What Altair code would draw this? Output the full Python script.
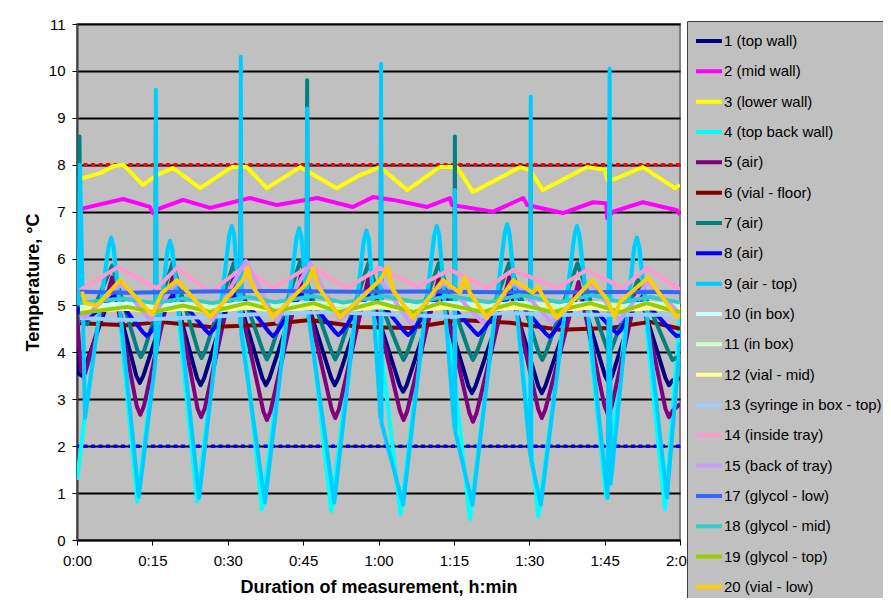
import altair as alt
import pandas as pd

LABELS = ["1 (top wall)", "2 (mid wall)", "3 (lower wall)", "4 (top back wall)", "5 (air)",
          "6 (vial - floor)", "7 (air)", "8 (air)", "9 (air  - top)", "10 (in box)",
          "11 (in box)", "12 (vial - mid)", "13 (syringe in box - top)", "14 (inside tray)",
          "15 (back of tray)", "17 (glycol - low)", "18 (glycol - mid)", "19 (glycol - top)",
          "20 (vial - low)"]
COLORS = ["#000080", "#FF00FF", "#FFFF00", "#00FFFF", "#800080", "#800000", "#008080",
          "#0000FF", "#00CCFF", "#CCFFFF", "#CCFFCC", "#FFFF99", "#99CCFF", "#FF99CC",
          "#CC99FF", "#3366FF", "#33CCCC", "#99CC00", "#FFCC00"]

X_TICKS = [0, 15, 30, 45, 60, 75, 90, 105, 120]
Y_TICKS = [0, 1, 2, 3, 4, 5, 6, 7, 8, 9, 10, 11]
LIMIT_HIGH = [8]
LIMIT_LOW = [2]

# time in minutes, temperature in degC
T1 = [0, 0.3, 1.0, 7.2, 11.8, 12.5, 13.2, 19.0, 23.9, 24.6, 25.3, 31.2, 36.9, 37.6, 38.3, 44.6, 50.6, 51.3, 52.0, 58.0, 64.2, 64.9, 65.6, 72.0, 77.9, 78.6, 79.3, 86.0, 91.8, 92.5, 93.2, 99.8, 105.1, 105.8, 106.5, 111.8, 117.1, 117.8, 118.5, 120]
V1 = [4.9, 3.55, 3.5, 5.4, 3.5, 3.35, 3.5, 5.4, 3.45, 3.3, 3.45, 5.5, 3.45, 3.3, 3.45, 5.5, 3.45, 3.3, 3.45, 5.4, 3.3, 3.16, 3.3, 5.4, 3.28, 3.13, 3.28, 5.4, 3.28, 3.13, 3.28, 5.4, 3.5, 3.35, 3.5, 5.3, 3.45, 3.3, 3.4, 3.45]

T2 = [0, 1.2, 9.2, 14.5, 15.1, 16.5, 21.1, 26.5, 34.4, 39.8, 47.8, 54.9, 58.9, 62.9, 69.7, 74.2, 74.6, 82.8, 88.8, 89.6, 96.7, 102.7, 105.3, 105.5, 106.7, 112.6, 119.4, 120]
V2 = [6.97, 7.07, 7.27, 7.1, 6.97, 7.07, 7.25, 7.08, 7.29, 7.14, 7.29, 7.1, 7.31, 7.25, 7.1, 7.29, 7.14, 7.0, 7.29, 7.14, 6.97, 7.2, 7.18, 6.86, 7.0, 7.2, 7.03, 6.93]

T3 = [0, 4.6, 7.2, 9.2, 13.1, 15.9, 19.1, 24.5, 30.8, 33.8, 37.8, 44.4, 51.7, 56.3, 60.3, 65.7, 72.2, 75.6, 78.8, 88.2, 90.1, 92.7, 101.5, 105.1, 105.5, 106.7, 112.6, 119.0, 120]
V3 = [7.68, 7.82, 7.97, 8.0, 7.57, 7.78, 7.93, 7.5, 7.95, 7.95, 7.5, 7.95, 7.5, 7.78, 7.95, 7.46, 7.95, 7.95, 7.42, 7.95, 7.89, 7.46, 7.95, 7.89, 7.68, 7.68, 7.95, 7.5, 7.57]

T4 = [0, 1.5, 6.2, 6.7, 7.2, 12.0, 17.9, 18.4, 18.9, 23.9, 30.2, 30.7, 31.2, 36.8, 43.6, 44.1, 44.6, 50.6, 57.0, 57.5, 58.0, 64.4, 71.0, 71.5, 72.0, 78.2, 85.0, 85.5, 86.0, 91.8, 98.9, 99.4, 99.9, 105.3, 110.8, 111.3, 111.8, 117.0, 120]
V4 = [1.28, 2.6, 6.2, 6.4, 6.2, 0.82, 6.1, 6.3, 6.1, 0.82, 6.45, 6.65, 6.45, 0.65, 6.4, 6.6, 6.4, 0.62, 6.35, 6.55, 6.35, 0.55, 6.45, 6.65, 6.45, 0.45, 6.5, 6.7, 6.5, 0.5, 6.45, 6.65, 6.45, 0.9, 6.2, 6.4, 6.2, 0.65, 4.8]

T5 = [0, 0.8, 1.6, 7.0, 11.9, 12.6, 13.3, 19.0, 24.0, 24.7, 25.4, 31.2, 37.1, 37.8, 38.5, 44.6, 50.7, 51.4, 52.1, 58.0, 64.3, 65.0, 65.7, 72.0, 78.1, 78.8, 79.5, 86.0, 91.8, 92.5, 93.2, 99.8, 105.0, 105.7, 106.4, 111.8, 117.1, 117.8, 118.5, 120]
V5 = [4.8, 3.6, 3.55, 5.6, 2.85, 2.67, 2.85, 5.6, 2.8, 2.62, 2.8, 5.65, 2.74, 2.56, 2.74, 5.65, 2.78, 2.6, 2.78, 5.6, 2.74, 2.56, 2.74, 5.6, 2.7, 2.52, 2.7, 5.6, 2.78, 2.6, 2.78, 5.5, 2.85, 2.67, 2.85, 5.5, 2.8, 2.62, 2.75, 2.9]

T6 = [0.6, 10.0, 16.5, 26.5, 36.4, 46.4, 56.3, 66.3, 76.2, 86.2, 96.1, 106.1, 114.0, 119.4, 120]
V6 = [4.62, 4.58, 4.65, 4.54, 4.58, 4.69, 4.54, 4.52, 4.69, 4.63, 4.48, 4.52, 4.65, 4.52, 4.5]

T7 = [0.3, 0.5, 0.7, 2.0, 7.0, 12.0, 12.7, 13.4, 15.6, 15.7, 15.8, 19.0, 24.1, 24.8, 25.5, 31.2, 32.5, 32.6, 32.7, 37.1, 37.8, 38.5, 44.5, 45.7, 45.8, 45.9, 50.7, 51.4, 52.1, 58.0, 60.4, 60.5, 60.6, 64.3, 65.0, 65.7, 72.0, 75.1, 75.2, 75.3, 78.1, 78.8, 79.5, 86.0, 90.2, 90.3, 90.4, 91.9, 92.6, 93.3, 99.6, 105.9, 106.0, 106.1, 111.6, 117.8, 118.5, 119.2, 120]
V7 = [6.6, 8.6, 4.7, 4.6, 5.85, 4.05, 3.9, 4.05, 4.8, 8.85, 4.85, 5.9, 4.03, 3.88, 4.03, 5.9, 5.4, 8.0, 5.35, 4.0, 3.85, 4.0, 5.97, 5.5, 9.8, 5.45, 4.0, 3.85, 4.0, 5.9, 5.1, 9.0, 5.0, 3.99, 3.84, 3.99, 5.9, 4.9, 8.6, 4.85, 3.99, 3.84, 3.99, 5.9, 4.6, 8.0, 4.5, 3.99, 3.84, 3.99, 5.9, 3.95, 8.0, 4.0, 5.55, 3.99, 3.84, 3.88, 3.9]

T8 = [0, 0.5, 2.0, 7.5, 13.2, 13.9, 14.6, 19.6, 25.6, 26.3, 27.0, 32.0, 38.3, 39.0, 39.7, 45.0, 51.3, 52.0, 52.7, 58.6, 65.2, 65.9, 66.6, 72.5, 79.1, 79.8, 80.5, 86.5, 93.3, 94.0, 94.7, 100.0, 106.8, 107.5, 108.2, 112.0, 118.6, 119.3, 120]
V8 = [4.95, 4.9, 4.7, 5.2, 4.42, 4.35, 4.42, 5.25, 4.47, 4.4, 4.47, 5.3, 4.42, 4.35, 4.42, 5.3, 4.44, 4.37, 4.44, 5.3, 4.44, 4.37, 4.44, 5.25, 4.44, 4.37, 4.44, 5.25, 4.4, 4.33, 4.4, 5.25, 4.47, 4.4, 4.47, 5.2, 4.42, 4.35, 4.36]

T9 = [0.3, 0.6, 1.6, 6.3, 6.8, 7.3, 12.3, 15.6, 15.7, 15.8, 18.0, 18.5, 19.0, 24.3, 30.3, 30.8, 31.3, 32.5, 32.6, 32.7, 37.4, 43.7, 44.2, 44.7, 45.7, 45.8, 45.9, 51.2, 57.1, 57.6, 58.1, 60.4, 60.5, 60.6, 64.9, 71.1, 71.6, 72.1, 75.1, 75.2, 75.3, 78.7, 85.1, 85.6, 86.1, 90.2, 90.3, 90.4, 92.3, 99.0, 99.5, 100.0, 105.6, 106.0, 106.2, 110.9, 111.4, 111.9, 117.4, 120]
V9 = [5.0, 8.0, 2.6, 6.25, 6.45, 6.25, 0.92, 3.8, 9.6, 4.0, 6.18, 6.38, 6.18, 0.9, 6.5, 6.7, 6.5, 4.6, 10.3, 4.4, 0.8, 6.45, 6.65, 6.45, 5.0, 9.2, 4.9, 0.8, 6.4, 6.6, 6.4, 2.6, 10.15, 2.5, 0.75, 6.5, 6.7, 6.5, 2.4, 7.46, 2.3, 0.75, 6.53, 6.73, 6.53, 1.8, 9.45, 1.7, 0.75, 6.5, 6.7, 6.5, 0.9, 10.05, 1.2, 6.25, 6.45, 6.25, 0.9, 4.2]

T10 = [0.6, 9, 15, 21, 27, 34, 39.5, 47, 53, 61, 67, 74, 81.5, 87.5, 95.5, 102.5, 108, 114, 120]
V10 = [4.98, 5.04, 4.99, 5.04, 4.99, 5.06, 5.0, 5.06, 5.0, 5.07, 5.0, 5.06, 5.0, 5.06, 5.0, 5.06, 5.0, 5.05, 5.0]

T11 = [0.6, 10, 21, 34, 47, 60, 73, 87, 101, 114, 120]
V11 = [4.93, 4.97, 4.96, 5.0, 5.0, 5.01, 4.99, 5.0, 4.99, 5.0, 4.97]

T12 = [0.6, 10, 15, 21, 27, 34, 40, 47, 53, 60, 67, 73, 81, 87, 95, 102, 108, 114, 120]
V12 = [4.88, 4.93, 4.88, 4.93, 4.88, 4.95, 4.89, 4.95, 4.89, 4.96, 4.9, 4.95, 4.9, 4.95, 4.9, 4.95, 4.9, 4.94, 4.9]

T13 = [0.6, 10, 25, 37, 50, 60, 75, 85, 96, 110, 120]
V13 = [4.73, 4.69, 4.75, 4.82, 4.86, 4.82, 4.76, 4.84, 4.8, 4.8, 4.8]

T14 = [0.6, 8.2, 14.5, 15.9, 19.9, 26.5, 33.2, 39.0, 46.4, 53.7, 60.3, 67.7, 74.2, 81.6, 86.8, 95.5, 101.5, 108.6, 113.4, 120]
V14 = [5.33, 5.82, 5.44, 5.37, 5.8, 5.29, 5.82, 5.37, 5.84, 5.37, 5.8, 5.4, 5.76, 5.37, 5.76, 5.37, 5.76, 5.37, 5.8, 5.33]

T15 = [0.6, 1.6, 8.6, 14.5, 19.9, 27.0, 33.6, 39.8, 46.4, 52.3, 60.3, 66.3, 73.0, 80.8, 87.0, 94.5, 102.3, 108.0, 113.6, 120]
V15 = [4.8, 4.75, 5.45, 4.69, 5.5, 4.69, 5.95, 4.65, 5.9, 4.69, 5.55, 4.63, 5.5, 4.63, 5.5, 4.63, 5.5, 4.67, 5.5, 4.83]

T17 = [0.6, 10, 25, 40, 55, 70, 85, 100, 115, 120]
V17 = [5.29, 5.27, 5.3, 5.31, 5.29, 5.3, 5.28, 5.28, 5.29, 5.28]

T18 = [0.6, 9, 15.5, 21, 27, 34, 39.5, 47, 53, 61, 67.5, 74, 82, 88, 96, 102.5, 108.5, 114, 120]
V18 = [5.05, 5.15, 5.05, 5.15, 5.05, 5.18, 5.07, 5.2, 5.06, 5.2, 5.07, 5.2, 5.07, 5.22, 5.07, 5.22, 5.07, 5.18, 5.06]

T19 = [0.6, 10.0, 15.1, 21.1, 26.5, 33.8, 39.8, 47.0, 52.3, 59.7, 66.9, 72.2, 80.8, 86.8, 94.7, 102.1, 108.1, 113.4, 119.4, 120]
V19 = [4.84, 4.97, 4.86, 5.0, 4.86, 5.05, 4.88, 5.05, 4.86, 5.07, 4.86, 5.05, 4.86, 5.05, 4.86, 5.05, 4.86, 5.05, 4.86, 4.87]

T20 = [1.0, 1.6, 4.0, 8.6, 14.9, 16.9, 19.9, 26.5, 33.0, 34.0, 35.0, 39.0, 45.8, 47.0, 48.0, 52.3, 60.3, 61.9, 62.9, 66.9, 72.8, 76.2, 77.2, 78.2, 81.6, 86.8, 90.7, 91.7, 92.7, 95.5, 102.5, 105.5, 107.0, 108.0, 113.6, 119.4, 120]
V20 = [5.3, 5.05, 5.0, 5.54, 4.8, 5.27, 5.54, 4.75, 5.54, 5.8, 5.4, 4.75, 5.48, 5.8, 5.4, 4.75, 5.54, 5.8, 5.33, 4.73, 5.54, 5.27, 5.59, 5.27, 4.73, 5.54, 5.27, 5.4, 5.2, 4.73, 5.54, 5.12, 4.75, 5.07, 5.59, 4.75, 4.8]

SERIES_T = [T1, T2, T3, T4, T5, T6, T7, T8, T9, T10, T11, T12, T13, T14, T15, T17, T18, T19, T20]
SERIES_V = [V1, V2, V3, V4, V5, V6, V7, V8, V9, V10, V11, V12, V13, V14, V15, V17, V18, V19, V20]

rows = []
for idx, (lab, ts, vs) in enumerate(zip(LABELS, SERIES_T, SERIES_V)):
    for t, v in zip(ts, vs):
        rows.append({"series": lab, "idx": idx, "t": t, "v": v})
df = pd.DataFrame(rows)

FONT = "Liberation Sans"

x_enc = alt.X("t:Q", scale=alt.Scale(domain=[0, 120], nice=False),
              axis=alt.Axis(values=X_TICKS, grid=False, title="Duration of measurement, h:min",
                            labelExpr="floor(datum.value/60) + ':' + (datum.value % 60 < 10 ? '0' : '') + (datum.value % 60)",
                            tickSize=5, tickColor="black", domainColor="black", domainWidth=1.5,
                            labelFont=FONT, labelFontSize=15, labelColor="black", labelPadding=8,
                            labelFlush=False,
                            titleFont=FONT, titleFontSize=18, titleFontWeight="bold", titleColor="black",
                            titlePadding=10, labelOverlap=False))
y_enc = alt.Y("v:Q", scale=alt.Scale(domain=[0, 11], nice=False),
              axis=alt.Axis(values=Y_TICKS, grid=True, gridColor="black", gridWidth=2,
                            title="Temperature, °C", tickSize=5, tickColor="black",
                            domainColor="#404040", domainWidth=2,
                            labelFont=FONT, labelFontSize=15, labelColor="black", labelPadding=7,
                            labelFlush=False,
                            titleFont=FONT, titleFontSize=18, titleFontWeight="bold", titleColor="black",
                            titlePadding=6))

lines = alt.Chart(df).mark_line(strokeWidth=4, strokeJoin="round", clip=True).encode(
    x=x_enc,
    y=y_enc,
    color=alt.Color("series:N", sort=LABELS, title=None,
                    scale=alt.Scale(domain=LABELS, range=COLORS),
                    legend=alt.Legend(orient="none", legendX=610, legendY=-3,
                                      fillColor="#C0C0C0", strokeColor="#404040",
                                      padding=5, symbolType="stroke", symbolSize=676,
                                      symbolStrokeWidth=4, symbolOffset=2, clipHeight=30,
                                      rowPadding=0.33, labelOffset=0, labelLimit=400,
                                      labelFont=FONT, labelFontSize=15, labelColor="black")),
    order=alt.Order("t:Q"),
)

hi = alt.Chart(pd.DataFrame({"v": LIMIT_HIGH})).mark_rule(
    color="#FF0000", strokeWidth=3.5, strokeDash=[4, 3.5]).encode(y="v:Q")
lo = alt.Chart(pd.DataFrame({"v": LIMIT_LOW})).mark_rule(
    color="#0000FF", strokeWidth=3.5, strokeDash=[4, 3.5]).encode(y="v:Q")

chart = alt.layer(hi, lo, lines).properties(
    width=603, height=516,
    autosize=alt.AutoSizeParams(type="none"),
    padding={"left": 69, "top": 16, "right": 203, "bottom": 58},
    background="white",
).configure_view(fill="#C0C0C0", stroke="#808080", strokeWidth=2)

chart.save("out.html", embed_options={"renderer": "svg", "actions": False})
